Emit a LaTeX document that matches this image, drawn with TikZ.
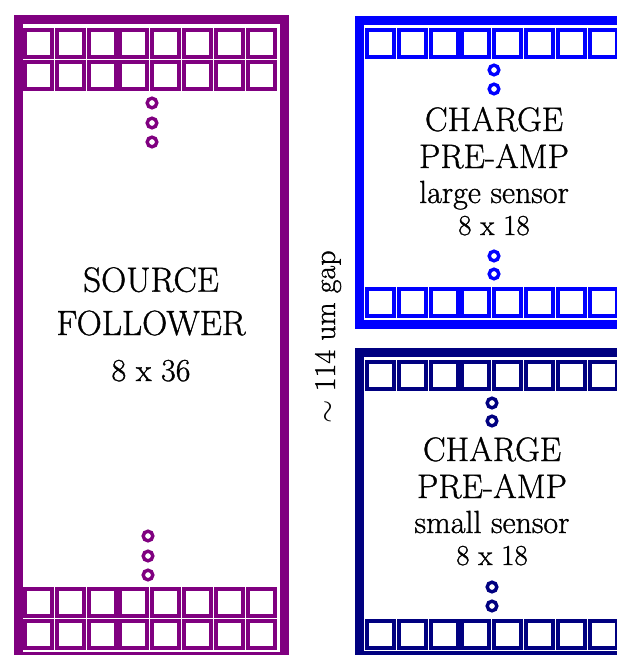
\RequirePackage{fix-cm}
\documentclass[tikz,border=0pt]{standalone}
\usepackage{fontspec}
\setmainfont{Latin Modern Roman}[FakeBold=1.0]
\definecolor{sfpurple}{RGB}{128,0,128}
\definecolor{cpblue}{RGB}{0,0,255}
\definecolor{cpnavy}{RGB}{0,0,128}
\newcommand\cellrowdraw[3]{%
  \foreach \i in {0,...,7}{%
    \draw[#1,cellline] ({#2+\i*31.8+2},{#3+2}) rectangle ({#2+\i*31.8+29},{#3+29});
  }%
}
\begin{document}
\begin{tikzpicture}[x=1pt,y=-1pt,
  frameline/.style={line width=8.8pt},
  cellline/.style={line width=4pt},
  dotline/.style={line width=3.4pt},
  bigtext/.style={font=\fontsize{35}{42}\selectfont, anchor=base, inner sep=0pt},
  cptext/.style={font=\fontsize{34}{40}\selectfont, anchor=base, inner sep=0pt},
  sentext/.style={font=\fontsize{32}{38}\selectfont, anchor=base, inner sep=0pt},
  numtext/.style={font=\fontsize{29}{35}\selectfont, anchor=base, inner sep=0pt},
  gaptext/.style={font=\fontsize{30}{36}\selectfont, anchor=base, inner sep=0pt},
  sfnum/.style={font=\fontsize{32}{38}\selectfont, anchor=base, inner sep=0pt}]
\useasboundingbox (0,0) rectangle (617,655);
\clip (0,0) rectangle (617,655);
% frames
\draw[sfpurple,frameline] (18.2,19.4) rectangle (284.6,656.5);
\draw[cpblue,frameline] (640,20.5) -- (359.5,20.5) -- (359.5,324.5) -- (640,324.5);
\draw[cpnavy,frameline] (640,352.5) -- (359.5,352.5) -- (359.5,655.8) -- (640,655.8);
% cells
\cellrowdraw{sfpurple}{23}{28.3}
\cellrowdraw{sfpurple}{23}{59.8}
\cellrowdraw{sfpurple}{23}{587}
\cellrowdraw{sfpurple}{23}{618.5}
\cellrowdraw{cpblue}{365}{28.3}
\cellrowdraw{cpblue}{365}{287}
\cellrowdraw{cpnavy}{365}{360}
\cellrowdraw{cpnavy}{365}{619}
% dots
\foreach \yy in {103,123,142} \draw[sfpurple,dotline] (152,\yy) circle (4.8pt);
\foreach \yy in {536,556,575} \draw[sfpurple,dotline] (148,\yy) circle (4.8pt);
\foreach \yy in {70,89,256,274} \draw[cpblue,dotline] (494,\yy) circle (4.8pt);
\foreach \yy in {403,421,587,606} \draw[cpnavy,dotline] (492,\yy) circle (4.8pt);
% texts
\node[bigtext] (sf1) at (151,291.7) {SOURCE};
\node[bigtext] (sf2) at (151,335) {FOLLOWER};
\node[sfnum] (sf3) at (151,381) {8 x 36};
\node[cptext] (la1) at (494,131) {CHARGE};
\node[cptext] (la2) at (494,168) {PRE-AMP};
\node[sentext] (la3) at (494,203) {large sensor};
\node[numtext] (la4) at (494,235) {8 x 18};
\node[cptext] (sm1) at (492,461) {CHARGE};
\node[cptext] (sm2) at (492,498) {PRE-AMP};
\node[sentext] (sm3) at (492,533) {small sensor};
\node[numtext] (sm4) at (492,565) {8 x 18};
\node[gaptext, rotate=90] (gap) at (335,337) {$\sim$ 114 um gap};
\end{tikzpicture}
\end{document}
